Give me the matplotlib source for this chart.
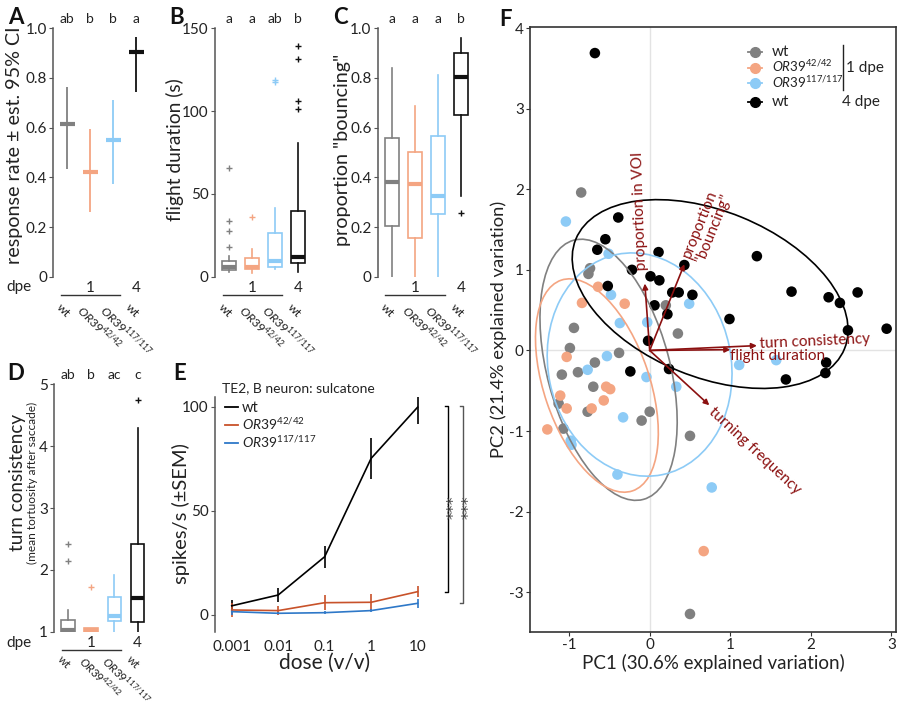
import numpy as np
import matplotlib
matplotlib.use('Agg')
import matplotlib.pyplot as plt
from matplotlib.patches import Ellipse
from matplotlib.lines import Line2D

plt.rcParams['font.family'] = ['Lato', 'DejaVu Sans']
plt.rcParams['mathtext.fontset'] = 'custom'
plt.rcParams['mathtext.rm'] = 'Lato'
plt.rcParams['mathtext.it'] = 'Lato:italic'
plt.rcParams['mathtext.bf'] = 'Lato:bold'
plt.rcParams['axes.unicode_minus'] = False

W, H = 897, 708
PT = 0.72  # points per pixel at dpi 100

# ---------------- data ----------------
group_colors = ['#808080', '#F4A582', '#8DCBF6', '#111111']
group_labels = ['wt', r'$\mathit{OR39}^{\mathrm{42/42}}$',
                r'$\mathit{OR39}^{\mathrm{117/117}}$', 'wt']

# A: response rate +- 95% CI
resp_rate = [0.615, 0.42, 0.55, 0.905]
resp_lo = [0.435, 0.26, 0.375, 0.745]
resp_hi = [0.765, 0.595, 0.71, 0.965]
letters_A = ['ab', 'b', 'b', 'a']

# B: flight duration (s)
fd_med = [6.0, 6.0, 9.7, 12.0]
fd_q1 = [4.0, 4.5, 6.0, 8.0]
fd_q3 = [9.7, 11.5, 26.6, 39.7]
fd_lo = [3.0, 2.0, 4.5, 3.0]
fd_hi = [12.5, 17.0, 41.7, 80.5]
fd_out = [[65.5, 33.6, 27.6, 18.1], [36.2], [117.8, 118.6], [139.5, 131.5, 106.0, 101.0]]
letters_B = ['a', 'a', 'ab', 'b']

# C: proportion "bouncing"
pb_med = [0.381, 0.372, 0.326, 0.803]
pb_q1 = [0.205, 0.157, 0.252, 0.651]
pb_q3 = [0.560, 0.503, 0.566, 0.899]
pb_lo = [0.0, 0.0, 0.0, 0.325]
pb_hi = [0.839, 0.687, 0.812, 0.962]
pb_out = [[], [], [], [0.258]]
letters_C = ['a', 'a', 'a', 'b']

# D: turn consistency
tc_med = [1.03, 1.03, 1.26, 1.545]
tc_q1 = [1.0, 1.0, 1.17, 1.15]
tc_q3 = [1.19, 1.065, 1.555, 2.42]
tc_lo = [1.0, 1.0, 1.0, 1.0]
tc_hi = [1.35, 1.065, 1.91, 4.29]
tc_out = [[2.42, 2.14], [1.73], [], [4.75]]
letters_D = ['ab', 'b', 'ac', 'c']

# E: TE2 B neuron dose response
doses = ['0.001', '0.01', '0.1', '1', '10']
wt_rate = [4.4, 9.6, 28.0, 75.3, 99.9]
wt_sem = [3.0, 3.6, 5.2, 10.0, 8.0]
or42_rate = [2.4, 2.1, 5.9, 6.1, 11.2]
or42_sem = [3.2, 2.2, 3.6, 4.0, 2.6]
or117_rate = [1.6, 0.8, 1.1, 2.1, 5.6]
or117_sem = [1.5, 0.5, 0.7, 0.8, 2.2]
e_colors = ['#000000', '#C8522A', '#2E78C8']
e_labels = ['wt', group_labels[1], group_labels[2]]

# F: PCA scores
pc_wt1_x = [-0.85, -0.74, -0.76, 0.20, 0.35, -0.94, -0.99, -0.38, -0.68, -1.09,
            -0.89, -0.70, -1.13, -0.77, -0.10, 0.00, -1.07, 0.50, 0.50]
pc_wt1_y = [1.96, 1.02, 0.95, 0.56, 0.21, 0.28, 0.03, -0.03, -0.15, -0.30,
            -0.27, -0.45, -0.66, -0.76, -0.87, -0.76, -0.97, -1.06, -3.27]
pc_or42_x = [-0.64, -0.84, -0.31, -1.03, -1.11, -1.03, -0.72, -0.57, -0.54, -0.49, -1.27, 0.67]
pc_or42_y = [0.79, 0.59, 0.58, -0.08, -0.56, -0.72, -0.72, -0.62, -0.45, -0.48, -0.98, -2.49]
pc_or117_x = [-1.04, -0.51, -0.48, 0.49, -0.37, -0.03, -0.53, -0.77, -0.04, 0.33,
              1.11, 1.57, -0.33, -0.98, -0.97, -0.40, 0.77]
pc_or117_y = [1.60, 1.20, 0.69, 0.58, 0.34, 0.35, -0.07, -0.24, -0.33, -0.45,
              -0.18, -0.12, -0.83, -1.12, -1.17, -1.54, -1.70]
pc_wt4_x = [-0.68, -0.39, -0.55, -0.65, 0.11, -0.22, 0.01, 0.12, -0.52, 0.43,
            0.28, 0.36, 0.53, 0.06, 0.22, 0.99, 1.33, 1.76, 2.22, 2.36,
            2.58, 2.46, 2.94, -0.02, 2.19, 2.18, 1.69, -0.24, 0.24]
pc_wt4_y = [3.69, 1.65, 1.38, 1.25, 1.22, 1.00, 0.92, 0.87, 0.80, 1.06,
            0.72, 0.72, 0.69, 0.56, 0.45, 0.39, 1.17, 0.73, 0.66, 0.59,
            0.72, 0.25, 0.27, 0.12, -0.15, -0.28, -0.36, -0.26, -0.23]
# ellipses: centre x, centre y, width, height, angle
ell_cx = [-0.51, -0.655, -0.125, 0.75]
ell_cy = [-0.24, -0.435, -0.175, 0.70]
ell_w = [3.33, 2.76, 2.79, 3.60]
ell_h = [1.52, 1.31, 2.27, 2.06]
ell_ang = [-75.0, -71.3, -78.4, -22.2]
pc_colors = ['#808080', '#F4A582', '#8DCBF6', '#000000']
# loadings
load_names = ['proportion in VOI', 'proportion\n"bouncing"', 'turn consistency',
              'flight duration', 'turning frequency']
load_x = [-0.06, 0.43, 1.33, 1.0, 0.74]
load_y = [0.83, 1.07, 0.06, 0.01, -0.68]
dark_red = '#8B1010'


def px_box(l, t, r, b):
    return [l / W, 1 - b / H, (r - l) / W, (b - t) / H]


def ftext(x, y, s, **kw):
    return fig.text(x / W, 1 - y / H, s, **kw)


fig = plt.figure(figsize=(W / 100, H / 100), dpi=100)

AX_C = '#555555'
TXT = '#222222'


def style_cat_axis(ax, ylim, yticks, yticklabels):
    ax.set_xlim(0.4, 4.6)
    ax.set_ylim(*ylim)
    for s in ['top', 'right', 'bottom']:
        ax.spines[s].set_visible(False)
    ax.spines['left'].set_color(AX_C)
    ax.spines['left'].set_linewidth(1.1)
    ax.set_xticks([])
    ax.set_yticks(yticks)
    ax.set_yticklabels(yticklabels)
    ax.tick_params(axis='y', length=3, width=0.8, color=AX_C, labelsize=11,
                   labelcolor=TXT, pad=1.5)
    ax.patch.set_alpha(0)


def group_annot(ax, letters, h_ax, lab_fs=8.8, lab_off=25):
    tr = ax.get_xaxis_transform()
    for i, lt in enumerate(letters):
        ax.annotate(lt, xy=(i + 1, 1), xycoords=tr, xytext=(0, 9 * PT),
                    textcoords='offset points', ha='center', va='center',
                    fontsize=10, color=TXT)
    for lab, pos in [('1', 2), ('4', 4)]:
        ax.annotate(lab, xy=(pos, 0), xycoords=tr, xytext=(0, -11 * PT),
                    textcoords='offset points', ha='center', va='center',
                    fontsize=11, color=TXT)
    ax.plot([0.73, 3.3], [-18.5 / h_ax] * 2, transform=tr, clip_on=False,
            color='#333333', lw=1.0)
    for i, lab in enumerate(group_labels):
        ax.annotate(lab, xy=(i + 1, 0), xycoords=tr,
                    xytext=(-5 * PT, -lab_off * PT),
                    textcoords='offset points', ha='left', va='top',
                    rotation=-45, rotation_mode='anchor', fontsize=lab_fs,
                    color=TXT)


def draw_box(ax, med, q1, q3, lo, hi, out):
    stats = []
    for i in range(4):
        stats.append(dict(med=med[i], q1=q1[i], q3=q3[i], whislo=lo[i],
                          whishi=hi[i], fliers=out[i]))
    bp = ax.bxp(stats, positions=[1, 2, 3, 4], widths=0.6, showcaps=False,
                patch_artist=True, manage_ticks=False)
    for i, c in enumerate(group_colors):
        bp['boxes'][i].set_facecolor('white')
        bp['boxes'][i].set_edgecolor(c)
        bp['boxes'][i].set_linewidth(1.2)
        bp['medians'][i].set_color(c)
        bp['medians'][i].set_linewidth(3.0)
        for w in bp['whiskers'][2 * i:2 * i + 2]:
            w.set_color(c)
            w.set_linewidth(1.2)
        bp['fliers'][i].set_marker('+')
        bp['fliers'][i].set_markeredgecolor(c)
        bp['fliers'][i].set_markersize(4)
        bp['fliers'][i].set_markeredgewidth(1.0)


def manual_legend(rows_y, x0, x1, xt, colors, labels, marker=None, fs=11,
                  fs_math=None):
    for y, c, lab in zip(rows_y, colors, labels):
        fig.add_artist(Line2D([x0 / W, x1 / W], [1 - y / H] * 2, color=c, lw=1.3))
        if marker:
            fig.add_artist(Line2D([(x0 + x1) / 2 / W], [1 - y / H], color=c,
                                  marker=marker, ms=7, lw=0))
        size = fs_math if (fs_math and lab.startswith('$')) else fs
        ftext(xt, y + 4.5, lab, ha='left', va='baseline', fontsize=size, color=TXT)


# ---------------- A ----------------
axA = fig.add_axes(px_box(53.3, 28.3, 150.3, 276.7))
style_cat_axis(axA, (0, 1), [0, 0.2, 0.4, 0.6, 0.8, 1.0],
               ['0', '0.2', '0.4', '0.6', '0.8', '1.0'])
for i in range(4):
    axA.vlines(i + 1, resp_lo[i], resp_hi[i], color=group_colors[i], lw=1.3)
    axA.hlines(resp_rate[i], i + 1 - 0.32, i + 1 + 0.32, color=group_colors[i], lw=3.0)
group_annot(axA, letters_A, 248.4)

# ---------------- B ----------------
axB = fig.add_axes(px_box(215.1, 28.3, 312.1, 276.7))
style_cat_axis(axB, (0, 150), [0, 50, 100, 150], ['0', '50', '100', '150'])
draw_box(axB, fd_med, fd_q1, fd_q3, fd_lo, fd_hi, fd_out)
group_annot(axB, letters_B, 248.4)

# ---------------- C ----------------
axC = fig.add_axes(px_box(377.8, 28.3, 474.8, 276.7))
style_cat_axis(axC, (0, 1), [0, 0.2, 0.4, 0.6, 0.8, 1.0],
               ['0', '0.2', '0.4', '0.6', '0.8', '1.0'])
draw_box(axC, pb_med, pb_q1, pb_q3, pb_lo, pb_hi, pb_out)
group_annot(axC, letters_C, 248.4)

# ---------------- D ----------------
axD = fig.add_axes(px_box(54.4, 384.3, 151.4, 631.7))
style_cat_axis(axD, (1, 5), [1, 2, 3, 4, 5], ['1', '2', '3', '4', '5'])
draw_box(axD, tc_med, tc_q1, tc_q3, tc_lo, tc_hi, tc_out)
group_annot(axD, letters_D, 247.4, lab_fs=8.3, lab_off=22)

# axis labels A-D
ftext(15, 145, u'response rate \u00b1 est. 95% CI', rotation=90, ha='center',
      va='center', fontsize=14.2, color=TXT)
ftext(175, 150, 'flight duration (s)', rotation=90, ha='center', va='center',
      fontsize=13.8, color=TXT)
ftext(342, 150, 'proportion "bouncing"', rotation=90, ha='center', va='center',
      fontsize=14.2, color=TXT)
ftext(17.5, 482, 'turn consistency', rotation=90, ha='center', va='center',
      fontsize=13.6, color=TXT)
ftext(32.5, 483, '(mean tortuosity after saccade)', rotation=90, ha='center',
      va='center', fontsize=8.6, color=TXT)
for y in (287, 643):
    ftext(19, y, 'dpe', ha='center', va='center', fontsize=11, color=TXT)

# ---------------- E ----------------
axE = fig.add_axes(px_box(215, 396.6, 478, 631.6))
xi = np.arange(len(doses))
for rate, sem, c in [(wt_rate, wt_sem, e_colors[0]),
                     (or42_rate, or42_sem, e_colors[1]),
                     (or117_rate, or117_sem, e_colors[2])]:
    axE.errorbar(xi, rate, yerr=sem, color=c, lw=1.2, elinewidth=1.2, capsize=0)
axE.set_xlim(-0.36, 5.3)
axE.set_ylim(-8, 105)
for s in ['top', 'right', 'bottom']:
    axE.spines[s].set_visible(False)
axE.spines['left'].set_color(AX_C)
axE.spines['left'].set_linewidth(1.1)
axE.set_xticks(xi)
axE.set_xticklabels(doses)
axE.set_yticks([0, 50, 100])
axE.tick_params(axis='x', length=0, labelsize=11, labelcolor=TXT, pad=6)
axE.tick_params(axis='y', length=3, width=0.8, color=AX_C, labelsize=11,
                labelcolor=TXT, pad=1.5)
axE.patch.set_alpha(0)
# significance brackets
for bx, top, bot, c, sx in [(4.66, 100.5, 11.2, '#000000', 4.78),
                            (4.98, 100.5, 5.6, '#555555', 5.11)]:
    axE.plot([bx - 0.06, bx, bx, bx - 0.06], [top, top, bot, bot], color=c,
             lw=1.0, clip_on=False)
    axE.text(sx, 52, '***', rotation=90, ha='center', va='center',
             fontsize=11.5, color='#444444', family='DejaVu Sans')
manual_legend([407, 425, 443], 225, 238, 241.7, e_colors, e_labels, fs=10.5,
              fs_math=10)
ftext(222, 388, 'TE2, B neuron: sulcatone', ha='left', va='center',
      fontsize=10, color=TXT)
ftext(181, 514, u'spikes/s (\u00b1SEM)', rotation=90, ha='center', va='center',
      fontsize=14.5, color=TXT)
ftext(325, 663, 'dose (v/v)', ha='center', va='center', fontsize=15, color=TXT)

# ---------------- F ----------------
axF = fig.add_axes(px_box(530, 27.3, 895.5, 631.7))
axF.set_xlim(-1.485, 3.05)
axF.set_ylim(-3.49, 4.01)
axF.axhline(0, color='#e3e3e3', lw=1.0, zorder=0)
axF.axvline(0, color='#e3e3e3', lw=1.0, zorder=0)
pts = [(pc_wt1_x, pc_wt1_y), (pc_or42_x, pc_or42_y),
       (pc_or117_x, pc_or117_y), (pc_wt4_x, pc_wt4_y)]
for (px, py), c in zip(pts, pc_colors):
    axF.scatter(px, py, s=58, color=c, edgecolors='none', zorder=3)
for i, c in enumerate(pc_colors):
    axF.add_patch(Ellipse((ell_cx[i], ell_cy[i]), ell_w[i], ell_h[i],
                          angle=ell_ang[i], fill=False, edgecolor=c, lw=1.2,
                          zorder=4))
for lx, ly in zip(load_x, load_y):
    axF.annotate('', xy=(lx, ly), xytext=(0, 0),
                 arrowprops=dict(arrowstyle='-|>', color=dark_red, lw=1.2,
                                 mutation_scale=8, shrinkA=0, shrinkB=0),
                 zorder=5)
label_pos = [(-0.09, 1.0, 92), (0.54, 1.12, 68), (1.37, 0.085, 2.6),
             (1.0, -0.075, 0), (0.76, -0.74, -43)]
for name, (tx, ty, rot) in zip(load_names, label_pos):
    axF.text(tx, ty, name, rotation=rot, rotation_mode='anchor', ha='left',
             va='center', fontsize=11, color=dark_red, linespacing=1.0,
             zorder=6)
axF.set_xticks([-1, 0, 1, 2, 3])
axF.set_yticks([-3, -2, -1, 0, 1, 2, 3, 4])
axF.tick_params(length=3, width=0.8, color='#333333', labelsize=11,
                labelcolor=TXT, pad=1.5)
for s in axF.spines.values():
    s.set_color('#333333')
    s.set_linewidth(1.2)
manual_legend([51.7, 67.7, 83.3, 101.7], 748, 762, 771.7, pc_colors,
              group_labels, marker='o', fs=11, fs_math=9.6)
fig.add_artist(Line2D([843.3 / W] * 2, [1 - 45 / H, 1 - 90 / H], color='#222222', lw=1.0))
ftext(846, 67.7, '1 dpe', ha='left', va='center', fontsize=11, color=TXT)
ftext(880, 101.7, '4 dpe', ha='right', va='center', fontsize=11, color=TXT)
ftext(499, 329.5, 'PC2 (21.4% explained variation)', rotation=90, ha='center',
      va='center', fontsize=13.2, color=TXT)
ftext(713, 663, 'PC1 (30.6% explained variation)', ha='center', va='center',
      fontsize=13.5, color=TXT)

# panel letters
for lab, x, y in [('A', 16, 17), ('B', 177, 18), ('C', 340, 17), ('D', 16, 373),
                  ('E', 180, 374), ('F', 505, 19)]:
    ftext(x, y, lab, ha='center', va='center', fontsize=16, fontweight='bold',
          color='#111111')

fig.savefig('out.png', dpi=100)
